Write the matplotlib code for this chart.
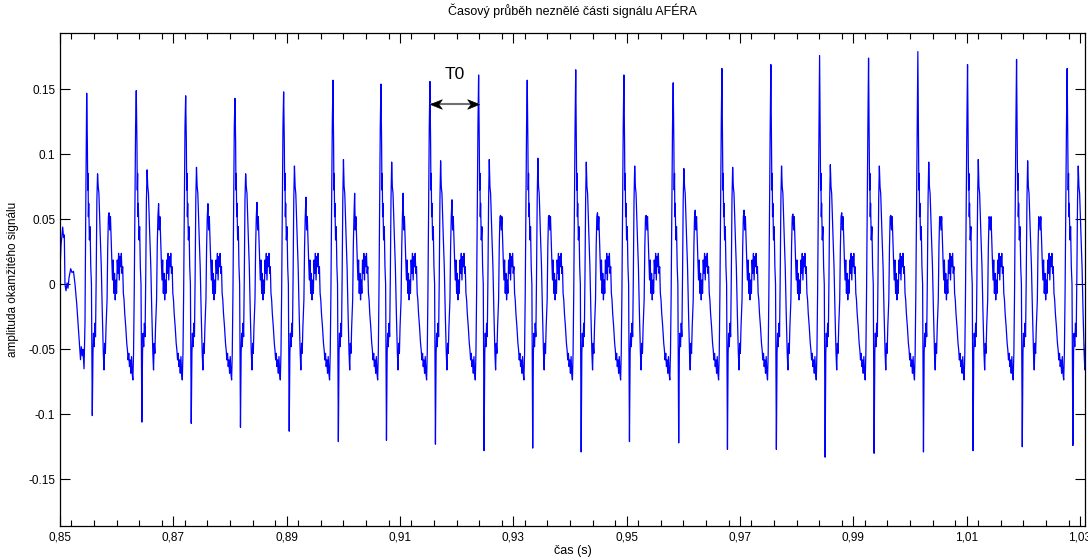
import matplotlib
matplotlib.use("Agg")
import matplotlib.pyplot as plt
from matplotlib.ticker import FixedLocator, MultipleLocator
from matplotlib.path import Path

plt.rcParams['font.family'] = ['Liberation Sans', 'DejaVu Sans']

# Glottal pulse instants (s) and landmark amplitudes of each period
peak_times = [0.85471, 0.86346, 0.87218, 0.88088, 0.88947, 0.89817, 0.90664,
              0.91529, 0.92388, 0.93246, 0.94102, 0.94952, 0.95822, 0.96682,
              0.97546, 0.98406, 0.99270, 1.00140, 1.01017, 1.01882, 1.02775]
peak_vals = [0.147, 0.149, 0.145, 0.143, 0.148, 0.157, 0.154, 0.156, 0.161,
             0.157, 0.165, 0.161, 0.155, 0.166, 0.169, 0.176, 0.174, 0.179,
             0.169, 0.173, 0.166]
trough_vals = [-0.101, -0.106, -0.107, -0.110, -0.113, -0.121, -0.120, -0.123,
               -0.128, -0.126, -0.129, -0.121, -0.122, -0.127, -0.127, -0.133,
               -0.130, -0.129, -0.128, -0.125, -0.124]
second_vals = [0.085, 0.088, 0.090, 0.085, 0.091, 0.096, 0.094, 0.095, 0.096,
               0.097, 0.094, 0.091, 0.089, 0.090, 0.091, 0.092, 0.091, 0.094,
               0.096, 0.095, 0.091]
third_vals = [0.055, 0.062, 0.062, 0.063, 0.067, 0.070, 0.070, 0.065, 0.053,
              0.053, 0.055, 0.053, 0.057, 0.057, 0.054, 0.055, 0.053, 0.052,
              0.050, 0.050, 0.050]

# Waveform of one period: position within the period (146 = full period) and amplitude
PERIOD_UNITS = 146.0
shape_pos = [0, 2, 3, 4, 5, 6, 8, 10, 12, 14, 16.5, 18.5, 20, 22, 24, 26, 28, 30,
             32, 34, 36, 38, 40, 43, 46, 49, 51, 53, 55, 57, 60, 62, 64, 66, 68,
             70, 72, 74, 76, 78, 80, 82, 84, 86, 88, 90, 92, 94, 96, 98, 100, 102,
             104, 106, 108, 110, 112, 115, 118, 120, 122, 124, 126, 128, 130, 132,
             134, 136, 138, 140, 142, 144]
shape_val = [0.160, 0.1085, 0.0725, 0.0853, 0.052, 0.0623, 0.0341, 0.0443, 0.0135,
             0.000, -0.120, -0.053, -0.0377, -0.048, -0.030, -0.0403, 0.0059,
             0.0649, 0.0956, 0.0751, 0.0699, 0.052, 0.0367, 0.0135, -0.0223,
             -0.0531, -0.0659, -0.0454, -0.0531, -0.0326, -0.012, 0.029, 0.052,
             0.0649, 0.0418, 0.052, 0.0341, 0.0187, 0.0033, 0.0187, -0.0069,
             0.0084, -0.012, 0.0033, -0.0069, 0.0187, 0.0084, 0.0238, 0.0033,
             0.0213, 0.0135, 0.0238, 0.0084, 0.0135, -0.0069, -0.012, -0.0223,
             -0.0326, -0.0454, -0.0505, -0.0582, -0.0531, -0.0633, -0.0582,
             -0.0684, -0.0556, -0.0684, -0.0736, -0.0531, -0.0069, 0.0572, 0.1212]
TROUGH_I = shape_pos.index(16.5)
SECOND_I = shape_pos.index(32)
THIRD_I = shape_pos.index(66)

# Samples before the first glottal pulse
lead_t = [0.85000, 0.85018, 0.85048, 0.85062, 0.85076, 0.85088, 0.85106, 0.85124,
          0.85141, 0.85159, 0.85189, 0.85212, 0.85238, 0.85265, 0.85295, 0.85318,
          0.85341, 0.85362, 0.85376, 0.85394, 0.85406, 0.85424, 0.85441, 0.85455]
lead_v = [0.011, 0.030, 0.044, 0.036, 0.038, 0.000, -0.005, 0.001, -0.003, 0.005,
          0.012, 0.009, 0.010, 0.000, -0.015, -0.030, -0.045, -0.058, -0.048,
          -0.055, -0.050, -0.065, -0.030, 0.060]

x_major = [0.85, 0.87, 0.89, 0.91, 0.93, 0.95, 0.97, 0.99, 1.01, 1.03]
x_labels = ['0,85', '0,87', '0,89', '0,91', '0,93', '0,95', '0,97', '0,99', '1,01', '1,03']
y_major = [-0.15, -0.1, -0.05, 0, 0.05, 0.1, 0.15]
y_labels = ['-0.15', '-0.1', '-0.05', '0', '0.05', '0.1', '0.15']

# Assemble the time signal period by period
t_sig = list(lead_t)
y_sig = list(lead_v)
n = len(peak_times)
for k in range(n):
    t0 = peak_times[k]
    T = (peak_times[k + 1] - t0) if k + 1 < n else (t0 - peak_times[k - 1])
    vals = list(shape_val)
    vals[0] = peak_vals[k]
    vals[TROUGH_I] = trough_vals[k]
    vals[SECOND_I] = second_vals[k]
    vals[THIRD_I] = third_vals[k]
    for p, v in zip(shape_pos, vals):
        t_sig.append(t0 + p / PERIOD_UNITS * T)
        y_sig.append(v)

W, H = 1088, 557
fig = plt.figure(figsize=(W / 100, H / 100), dpi=100)
ax = fig.add_axes([60 / W, 31.3 / H, 1025 / W, 492.7 / H])
ax.plot(t_sig, y_sig, color='#0000FF', lw=0.9)

ax.set_xlim(0.85, 1.0309)
ax.set_ylim(-0.1857, 0.1933)
ax.xaxis.set_major_locator(FixedLocator(x_major))
ax.set_xticklabels(x_labels)
ax.xaxis.set_minor_locator(MultipleLocator(0.004))
ax.yaxis.set_major_locator(FixedLocator(y_major))
ax.set_yticklabels(y_labels)
ax.tick_params(which='both', direction='in', top=True, right=True, labelsize=8.5,
               width=0.8, color='black')
ax.tick_params(which='major', length=7)
ax.tick_params(which='minor', length=4)
ax.tick_params(axis='y', which='major', pad=3.5)
ax.tick_params(axis='x', which='major', pad=4.5)
for s in ax.spines.values():
    s.set_linewidth(0.9)

# Fundamental period marker: grey shaft with concave black heads
arrow_y = 0.1387
t_a, t_b = peak_times[7], peak_times[8]
ax.plot([t_a, t_b], [arrow_y, arrow_y], color='#707070', lw=1.5,
        solid_capstyle='butt', zorder=4)
head_left = Path([(0, 0), (2, 0.8), (1.4, 0), (2, -0.8), (0, 0)],
                 [Path.MOVETO, Path.LINETO, Path.LINETO, Path.LINETO, Path.CLOSEPOLY])
head_right = Path([(0, 0), (-2, 0.8), (-1.4, 0), (-2, -0.8), (0, 0)],
                  [Path.MOVETO, Path.LINETO, Path.LINETO, Path.LINETO, Path.CLOSEPOLY])
ax.plot([t_a], [arrow_y], marker=head_left, ms=17, color='black', mew=0.5,
        linestyle='none', zorder=5)
ax.plot([t_b], [arrow_y], marker=head_right, ms=17, color='black', mew=0.5,
        linestyle='none', zorder=5)
ax.text((t_a + t_b) / 2, 0.161, 'T0', fontsize=12.5, ha='center', va='center')

fig.text(572.5 / W, 1 - 10.5 / H, 'Časový průběh neznělé části signálu AFÉRA',
         fontsize=9, ha='center', va='center')
fig.text(572.5 / W, 1 - 551 / H, 'čas (s)', fontsize=9, ha='center', va='center')
fig.text(13 / W, 1 - 279.4 / H, 'amplituda okamžitého signálu', fontsize=8.5,
         ha='center', va='center', rotation=90)

fig.savefig('out.png', dpi=100)
